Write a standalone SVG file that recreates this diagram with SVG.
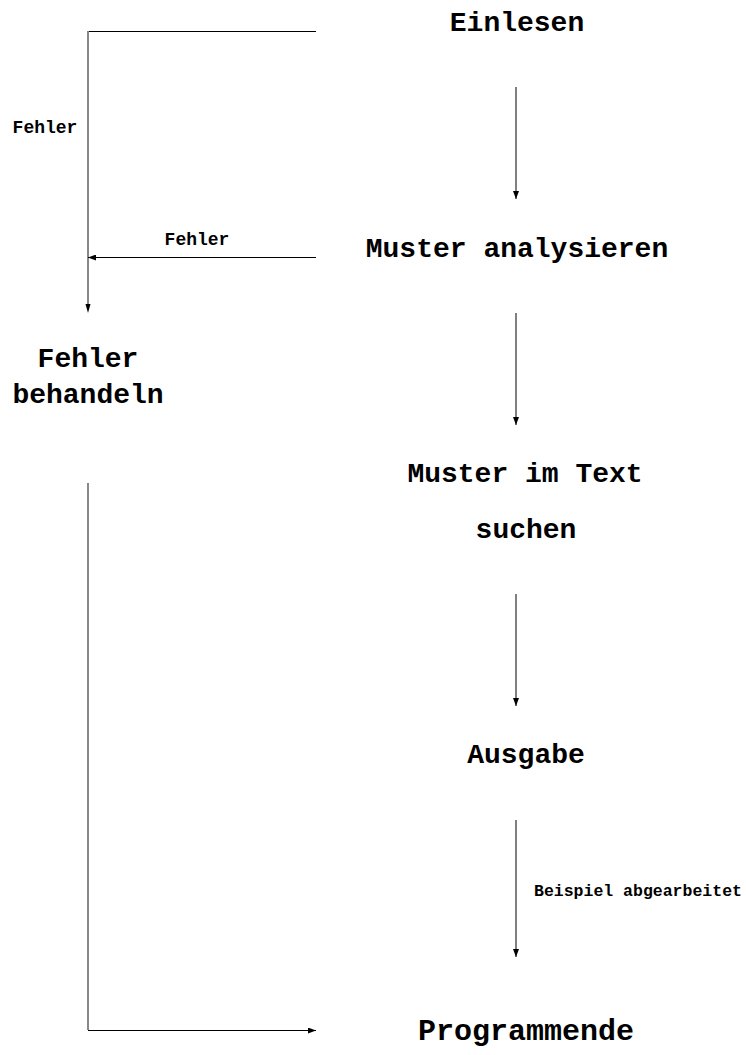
<svg xmlns="http://www.w3.org/2000/svg" width="746" height="1055" viewBox="0 0 746 1055">
<style>
.n{font-family:"Liberation Mono","Courier New",monospace;font-weight:bold;font-size:28px;fill:#000;text-anchor:middle}
.l{font-family:"Liberation Mono","Courier New",monospace;font-weight:bold;font-size:18px;fill:#000;text-anchor:middle}
.b{font-family:"Liberation Mono","Courier New",monospace;font-weight:bold;font-size:16.5px;fill:#000;text-anchor:start}
.k{stroke:#000;stroke-width:1;fill:none}
.g{stroke:#888;stroke-width:2;fill:none}
</style>
<defs>
<marker id="ah" markerWidth="8" markerHeight="6" refX="8" refY="3" orient="auto" markerUnits="userSpaceOnUse">
<path d="M0,0 L8,3 L0,6 Z" fill="#000"/>
</marker>
</defs>
<rect width="746" height="1055" fill="#fff"/>
<g id="connectors">
<line class="k" x1="316" y1="31.5" x2="88" y2="31.5"/>
<line class="g" x1="88" y1="31" x2="88" y2="304"/>
<path d="M85.5,304 L90.5,304 L88,313 Z" fill="#000"/>
<line class="k" x1="516" y1="87" x2="516" y2="199" marker-end="url(#ah)"/>
<line class="k" x1="316" y1="257.5" x2="88" y2="257.5" marker-end="url(#ah)"/>
<line class="k" x1="516" y1="313" x2="516" y2="425" marker-end="url(#ah)"/>
<line class="k" x1="516" y1="594" x2="516" y2="706" marker-end="url(#ah)"/>
<line class="k" x1="516" y1="820" x2="516" y2="957" marker-end="url(#ah)"/>
<line class="g" x1="88" y1="483" x2="88" y2="1030"/>
<line class="k" x1="88" y1="1030.5" x2="316" y2="1030.5" marker-end="url(#ah)"/>
<text class="l" x="45" y="133">Fehler</text>
<text class="l" x="197" y="245">Fehler</text>
<text class="b" x="534" y="896">Beispiel abgearbeitet</text>
</g>
<g id="einlesen"><text class="n" x="517" y="31">Einlesen</text></g>
<g id="muster-analysieren"><text class="n" x="517" y="257">Muster analysieren</text></g>
<g id="fehler-behandeln"><text class="n" x="88" y="367">Fehler</text><text class="n" x="88" y="403">behandeln</text></g>
<g id="muster-suchen"><text class="n" x="525" y="482">Muster im Text</text><text class="n" x="526" y="538">suchen</text></g>
<g id="ausgabe"><text class="n" x="526" y="763">Ausgabe</text></g>
<g id="programmende"><text class="n" x="526" y="1040" style="font-size:30px">Programmende</text></g>
</svg>
